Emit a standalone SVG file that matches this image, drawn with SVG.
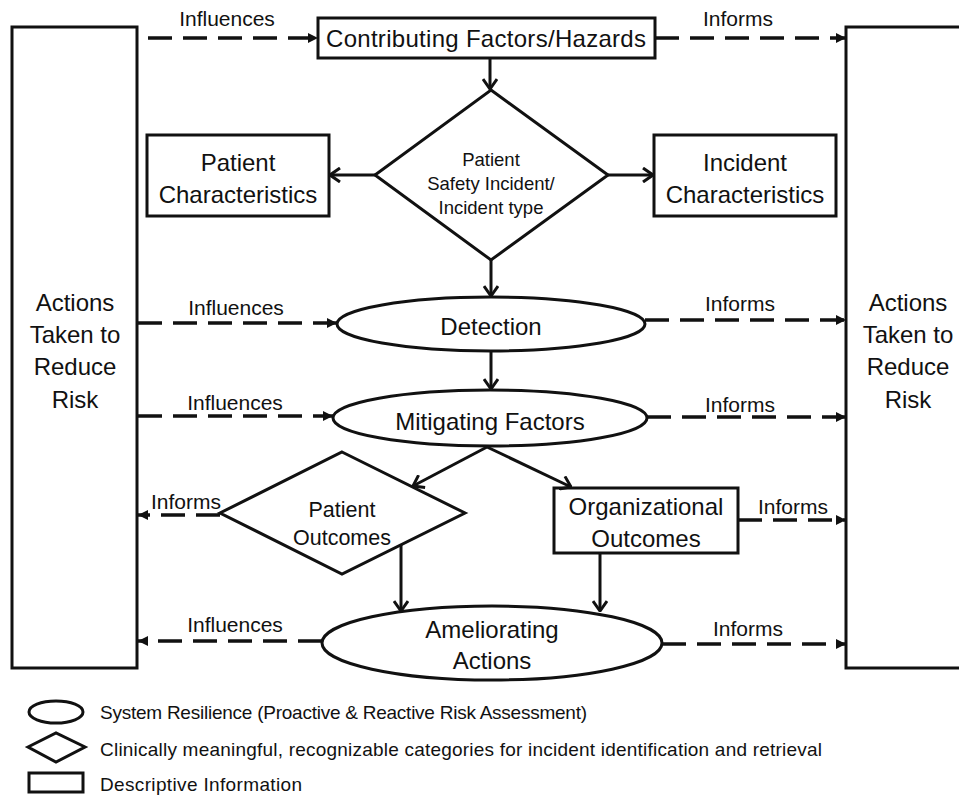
<svg xmlns="http://www.w3.org/2000/svg" width="959" height="795" viewBox="0 0 959 795">
<style>
text{font-family:"Liberation Sans",Arial,sans-serif;fill:#111;text-anchor:middle}
.shape{fill:#fff;stroke:#111;stroke-width:3}
.solid{fill:none;stroke:#111;stroke-width:3}
.dash{fill:none;stroke:#111;stroke-width:3.5;stroke-dasharray:24 11}
.lbl{font-size:21px}
.big{font-size:24px}
.leg{font-size:19px;text-anchor:start}
</style>
<defs>
<marker id="chev" viewBox="0 0 12 16" refX="11" refY="8" markerWidth="12" markerHeight="16" markerUnits="userSpaceOnUse" orient="auto">
<path d="M1,1 L11,8 L1,15" fill="none" stroke="#111" stroke-width="3"/>
</marker>
<marker id="dh" viewBox="0 0 10 10" refX="10" refY="5" markerWidth="10" markerHeight="10" markerUnits="userSpaceOnUse" orient="auto">
<path d="M0,0 L10,5 L0,10 z" fill="#111"/>
</marker>
</defs>
<rect width="959" height="795" fill="#fff"/>

<g id="actions-left">
<rect class="shape" x="12" y="27" width="125" height="641"/>
<text class="big" x="75" y="311">Actions</text>
<text class="big" x="75" y="343">Taken to</text>
<text class="big" x="75" y="375">Reduce</text>
<text class="big" x="75" y="408">Risk</text>
</g>

<g id="actions-right">
<rect class="shape" x="846" y="27" width="130" height="641"/>
<text class="big" x="908" y="311">Actions</text>
<text class="big" x="908" y="343">Taken to</text>
<text class="big" x="908" y="375">Reduce</text>
<text class="big" x="908" y="408">Risk</text>
</g>

<g id="contributing">
<rect class="shape" x="318" y="18" width="337" height="40"/>
<text class="big" x="486" y="47" textLength="320">Contributing Factors/Hazards</text>
</g>

<g id="incident">
<polygon class="shape" points="491,90 608,175 491,260 375,175"/>
<text x="491" y="166" style="font-size:18.5px">Patient</text>
<text x="491" y="190" style="font-size:18.5px">Safety Incident/</text>
<text x="491" y="214" style="font-size:18.5px">Incident type</text>
</g>

<g id="patient-char">
<rect class="shape" x="147" y="135" width="182" height="81"/>
<text class="big" x="238" y="171">Patient</text>
<text class="big" x="238" y="203">Characteristics</text>
</g>

<g id="incident-char">
<rect class="shape" x="654" y="135" width="182" height="81"/>
<text class="big" x="745" y="171">Incident</text>
<text class="big" x="745" y="203">Characteristics</text>
</g>

<g id="detection">
<ellipse class="shape" cx="491" cy="324" rx="154" ry="27"/>
<text class="big" x="491" y="335">Detection</text>
</g>

<g id="mitigating">
<ellipse class="shape" cx="490" cy="418" rx="157" ry="28"/>
<text class="big" x="490" y="430">Mitigating Factors</text>
</g>

<g id="patient-outcomes">
<polygon class="shape" points="342,452 465,513 342,574 220,513"/>
<text x="342" y="517" style="font-size:21.5px">Patient</text>
<text x="342" y="545" style="font-size:21.5px">Outcomes</text>
</g>

<g id="org-outcomes">
<rect class="shape" x="554" y="488" width="184" height="65"/>
<text class="big" x="646" y="515">Organizational</text>
<text class="big" x="646" y="547">Outcomes</text>
</g>

<g id="ameliorating">
<ellipse class="shape" cx="492" cy="643" rx="170" ry="37"/>
<text class="big" x="492" y="638">Ameliorating</text>
<text class="big" x="492" y="669">Actions</text>
</g>

<g id="connectors">
<line class="solid" x1="490" y1="58" x2="490" y2="89" marker-end="url(#chev)"/>
<line class="solid" x1="375" y1="175" x2="330" y2="175" marker-end="url(#chev)"/>
<line class="solid" x1="608" y1="175" x2="653" y2="175" marker-end="url(#chev)"/>
<line class="solid" x1="491" y1="260" x2="491" y2="296" marker-end="url(#chev)"/>
<line class="solid" x1="491" y1="351" x2="491" y2="389" marker-end="url(#chev)"/>
<line class="solid" x1="487" y1="447" x2="413" y2="486" marker-end="url(#chev)"/>
<line class="solid" x1="487" y1="447" x2="571" y2="487" marker-end="url(#chev)"/>
<line class="solid" x1="401" y1="545" x2="401" y2="611" marker-end="url(#chev)"/>
<line class="solid" x1="600" y1="553" x2="600" y2="611" marker-end="url(#chev)"/>

<line class="dash" x1="148" y1="38" x2="318" y2="38" marker-end="url(#dh)"/>
<line class="dash" x1="655" y1="38" x2="846" y2="38" marker-end="url(#dh)"/>
<line class="dash" x1="138" y1="323" x2="337" y2="323" marker-end="url(#dh)"/>
<line class="dash" x1="645" y1="320" x2="846" y2="320" marker-end="url(#dh)"/>
<line class="dash" x1="138" y1="416" x2="333" y2="416" marker-end="url(#dh)"/>
<line class="dash" x1="647" y1="417" x2="846" y2="417" marker-end="url(#dh)"/>
<line class="dash" x1="220" y1="515" x2="138" y2="515" marker-end="url(#dh)"/>
<line class="dash" x1="738" y1="520" x2="846" y2="520" marker-end="url(#dh)"/>
<line class="dash" x1="322" y1="641" x2="138" y2="641" marker-end="url(#dh)"/>
<line class="dash" x1="662" y1="644" x2="846" y2="644" marker-end="url(#dh)"/>

<text class="lbl" x="227" y="26">Influences</text>
<text class="lbl" x="738" y="26">Informs</text>
<text class="lbl" x="236" y="315">Influences</text>
<text class="lbl" x="740" y="311">Informs</text>
<text class="lbl" x="235" y="410">Influences</text>
<text class="lbl" x="740" y="412">Informs</text>
<text class="lbl" x="186" y="509">Informs</text>
<text class="lbl" x="793" y="514">Informs</text>
<text class="lbl" x="235" y="632">Influences</text>
<text class="lbl" x="748" y="636">Informs</text>
</g>

<g id="legend">
<ellipse class="shape" cx="56" cy="712" rx="27" ry="11"/>
<polygon class="shape" points="28,747 56,733 85,747 56,762"/>
<rect class="shape" x="29" y="773" width="54" height="19"/>
<text class="leg" x="100" y="719" textLength="487">System Resilience (Proactive &amp; Reactive Risk Assessment)</text>
<text class="leg" x="100" y="756" textLength="722">Clinically meaningful, recognizable categories for incident identification and retrieval</text>
<text class="leg" x="100" y="791" textLength="202">Descriptive Information</text>
</g>
</svg>
